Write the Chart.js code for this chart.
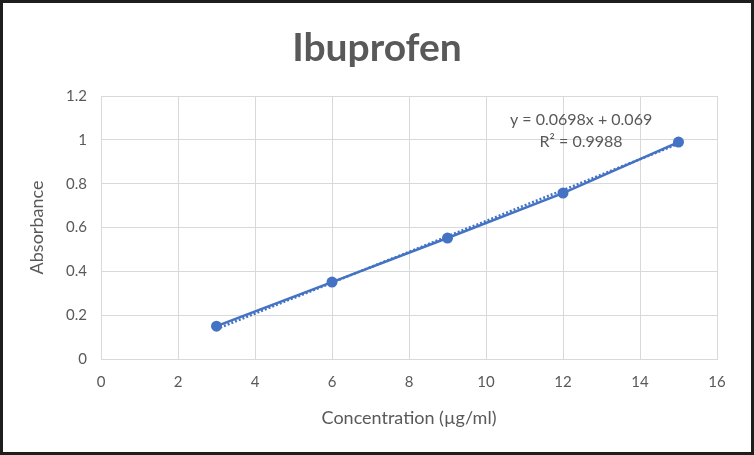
<!DOCTYPE html>
<html>
<head>
<meta charset="utf-8">
<script src="https://cdn.jsdelivr.net/npm/chart.js@4/dist/chart.umd.min.js"></script>
<style>
  body { margin: 0; background: #fff; }
  #wrap { width: 754px; height: 455px; position: relative; }
</style>
</head>
<body>
<div id="wrap"><canvas id="myChart" width="754" height="455"></canvas></div>
<script>
const concentration = [3, 6, 9, 12, 15];
const absorbance = [0.15, 0.351, 0.552, 0.757, 0.99];
const trendX = [3, 15];
const trendY = [0.137, 0.982];
const equation = "y = 0.0698x + 0.069";
const rSquared = "R² = 0.9988";

const blue = "#4472c4";
const gray = "#595959";
const font = "Lato, 'Open Sans', sans-serif";

const frame = {
  id: "frame",
  afterDraw(chart) {
    const c = chart.ctx;
    c.save();
    c.strokeStyle = "#1e1e1e";
    c.lineWidth = 3;
    c.strokeRect(1.5, 1.5, chart.width - 3, chart.height - 3);
    const x = chart.scales.x;
    const y = chart.scales.y;
    c.fillStyle = gray;
    c.font = "16px " + font;
    c.textAlign = "center";
    c.textBaseline = "middle";
    c.fillText(equation, x.getPixelForValue(12.47), y.getPixelForValue(1.09));
    c.fillText(rSquared, x.getPixelForValue(12.47), y.getPixelForValue(0.99));
    c.restore();
  },
};

const ctx = document.getElementById("myChart");
const myChart = new Chart(ctx, {
  type: "scatter",
  data: {
    datasets: [
      {
        label: "Trendline",
        data: trendX.map((v, i) => ({ x: v, y: trendY[i] })),
        showLine: true,
        borderColor: blue,
        borderWidth: 2.5,
        borderDash: [2, 2],
        pointRadius: 0,
      },
      {
        label: "Absorbance",
        data: concentration.map((v, i) => ({ x: v, y: absorbance[i] })),
        showLine: true,
        borderColor: blue,
        backgroundColor: blue,
        borderWidth: 2.5,
        pointRadius: 5.5,
        pointBorderWidth: 0,
      },
    ],
  },
  options: {
    responsive: false,
    animation: false,
    layout: { padding: 0 },
    plugins: {
      legend: { display: false },
      tooltip: { enabled: false },
      title: {
        display: true,
        text: "Ibuprofen",
        color: gray,
        font: { family: font, size: 39, weight: "bold", lineHeight: 1.2 },
        padding: { top: 25, bottom: 24.2 },
      },
    },
    scales: {
      x: {
        type: "linear",
        min: 0,
        max: 16,
        ticks: { stepSize: 2, color: gray, font: { family: font, size: 15 }, padding: 14 },
        grid: { color: "#d9d9d9", drawTicks: false },
        border: { color: "#d9d9d9" },
        title: {
          display: true,
          text: "Concentration (µg/ml)",
          color: gray,
          font: { family: font, size: 18 },
          padding: { top: 4, bottom: 26 },
        },
        afterFit: (scale) => {
          scale.height = 96;
        },
      },
      y: {
        min: 0,
        max: 1.2,
        ticks: {
          stepSize: 0.2,
          color: gray,
          font: { family: font, size: 15 },
          padding: 14,
          callback: (v) => String(parseFloat(v.toFixed(1))),
        },
        grid: { color: "#d9d9d9", drawTicks: false },
        border: { display: false },
        title: {
          display: true,
          text: "Absorbance",
          color: gray,
          font: { family: font, size: 18 },
          padding: { top: 26, bottom: 0 },
        },
        afterFit: (scale) => {
          scale.width = 101;
        },
      },
      yRight: {
        position: "right",
        display: true,
        grid: { display: false },
        border: { display: false },
        ticks: { display: false },
        afterFit: (scale) => {
          scale.width = 37;
        },
      },
    },
  },
  plugins: [frame],
});
</script>
</body>
</html>
